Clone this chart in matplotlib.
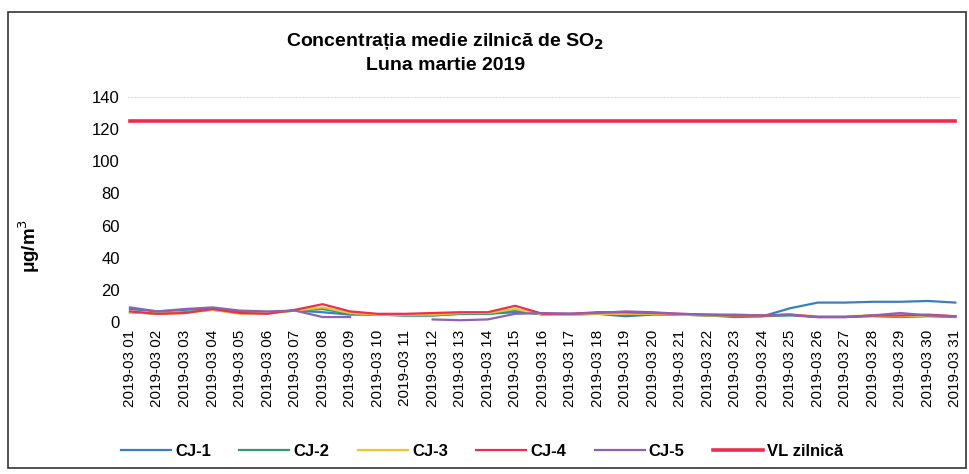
import numpy as np
import matplotlib
matplotlib.use('Agg')
import matplotlib.pyplot as plt
from matplotlib.patches import Rectangle

plt.rcParams['font.family'] = ['Liberation Sans', 'DejaVu Sans']

# daily mean SO2, March 2019 (ug/m3)
days = list(range(1, 32))
day_labels = [f'2019-03 {d:02d}' for d in days]

cj1 = [8, 6.5, 7.5, 8.5, 6.5, 6, 7, 6, 4.5, 4.5, 4, 4, 5, 5, 6, 5,
       5, 5, 3.5, 4.5, 4.5, 4, 3, 3.5, 8.5, 12, 12, 12.5, 12.5, 13, 12]
cj2 = [6, 5, 6, 7.5, 5.5, 5.5, 7, 8, 5, 4.5, 4, 4, 5, 5, 7, 4.5,
       4.5, 5, 5, 5, 4.5, 4, 3.5, 3.5, 4, 3, 3, 3.5, 3, 3.5, 3]
cj3 = [6, 5, 5.5, 7.5, 5, 5.5, 7, 9, 5.5, 4.5, 4.5, 4.5, 5.5, 5.5, 8, 4.5,
       4.5, 5, 5, 5, 4.5, 4, 4, 4, 4.5, 3.5, 3.5, 4, 3.5, 4, 3.5]
cj4 = [6.5, 5, 5.5, 8, 5.5, 5, 7.5, 11, 6.5, 5, 5, 5.5, 6, 6, 10, 5,
       5, 6, 6, 5.5, 5, 4.5, 4, 4, 4.5, 3, 3, 4, 4, 4.5, 3.5]
cj5 = [9, 6.5, 8, 9, 7, 6.5, 7, 3, 3, np.nan, np.nan, 1.5, 1, 1.5, 5, 5.5,
       5, 5.5, 6.5, 6, 5, 4.5, 4.5, 4, 4.5, 3, 3, 4, 5.5, 4, 3.5]
vl_zilnica = [125] * 31

series = [
    ('CJ-1', cj1, '#3a7fc4', 1.6),
    ('CJ-2', cj2, '#2f9a78', 1.6),
    ('CJ-3', cj3, '#f2c12e', 1.6),
    ('CJ-4', cj4, '#e8304f', 1.6),
    ('CJ-5', cj5, '#8e62b0', 1.6),
    ('VL zilnică', vl_zilnica, '#ec2d4c', 2.6),
]

fig = plt.figure(figsize=(9.7, 4.74), dpi=100)
ax = fig.add_axes([0.132, 0.321, 0.858, 0.474])

for name, vals, color, lw in series:
    ax.plot(days, vals, color=color, lw=lw, label=name)

ax.set_xlim(0.93, 31.18)
ax.set_ylim(0, 140)
ax.set_yticks(range(0, 141, 20))
ax.set_xticks(days)
ax.set_xticklabels(day_labels, rotation=90, fontsize=11)
ax.tick_params(axis='y', labelsize=12, length=0, pad=6)
ax.tick_params(axis='x', length=0, pad=6)
for side in ['left', 'right', 'bottom']:
    ax.spines[side].set_visible(False)
ax.spines['top'].set_color('#dddddd')
ax.spines['top'].set_linestyle(':')

ax.set_ylabel('μg/m$^3$', fontsize=13.5, fontweight='bold')
ax.yaxis.set_label_coords(-0.103, 0.34)

fig.text(0.459, 0.912, 'Concentrația medie zilnică de SO$_\\mathbf{2}$',
         ha='center', va='center', fontsize=14, fontweight='bold')
fig.text(0.459, 0.861, 'Luna martie 2019', ha='center', va='center',
         fontsize=14, fontweight='bold')

leg = fig.legend(loc='center', bbox_to_anchor=(0.497, 0.047), ncol=6,
                 frameon=False, handlelength=3.0, columnspacing=1.7,
                 handletextpad=0.25, prop={'size': 12, 'weight': 'bold'})

# outer chart border from the scan
fig.patches.append(Rectangle((0.008, 0.012), 0.988, 0.962, transform=fig.transFigure,
                             fill=False, edgecolor='#333333', lw=1.2))

plt.savefig('out.png', dpi=100)
plt.close()
